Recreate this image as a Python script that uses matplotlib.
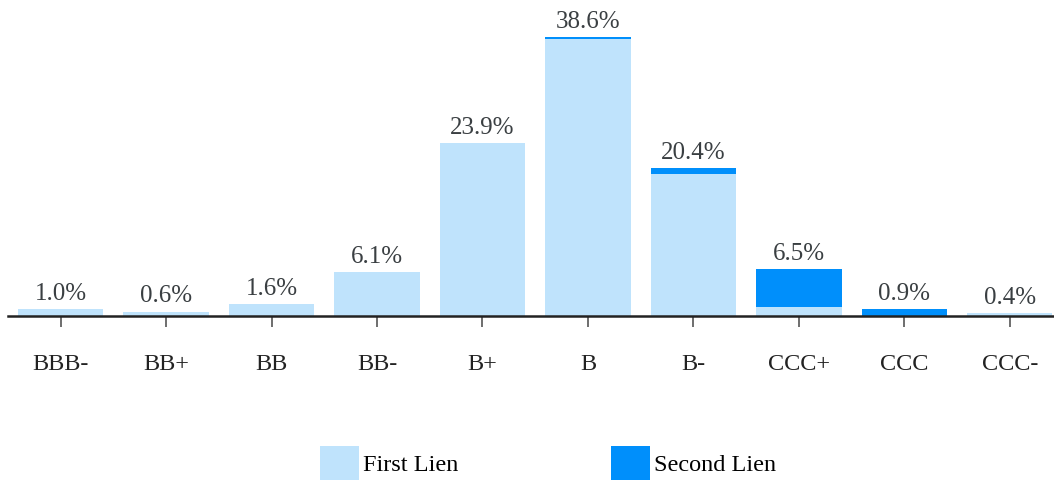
import matplotlib
matplotlib.use("Agg")
import matplotlib.pyplot as plt
from matplotlib.patches import Patch

categories = ["BBB-", "BB+", "BB", "BB-", "B+", "B", "B-", "CCC+", "CCC", "CCC-"]
first_lien = [1.0, 0.6, 1.6, 6.1, 23.9, 38.3, 19.6, 1.2, 0.0, 0.4]
second_lien = [0.0, 0.0, 0.0, 0.0, 0.0, 0.3, 0.8, 5.3, 0.9, 0.0]
totals = ["1.0%", "0.6%", "1.6%", "6.1%", "23.9%", "38.6%", "20.4%", "6.5%", "0.9%", "0.4%"]

c_first = "#BFE3FC"
c_second = "#008FFB"

plt.rcParams['font.family'] = ['Liberation Serif', 'DejaVu Serif']

fig = plt.figure(figsize=(10.54, 4.8), dpi=100)
ax = fig.add_axes([8/1054, 164/480, 1046/1054, 316/480])

x = list(range(len(categories)))
ax.bar(x, first_lien, width=0.81, color=c_first, label="First Lien")
ax.bar(x, second_lien, width=0.81, bottom=first_lien, color=c_second, label="Second Lien")

for xi, f, s, t in zip(x, first_lien, second_lien, totals):
    ax.annotate(t, (xi, f + s), xytext=(0, 3), textcoords="offset points",
                ha="center", va="bottom", fontsize=18, color="#3a3f42")

ax.set_xlim(-0.5, 9.42)
ax.set_ylim(0, 43.7)
for sp in ["top", "right", "left"]:
    ax.spines[sp].set_visible(False)
ax.spines["bottom"].set_linewidth(1.8)
ax.spines["bottom"].set_color("#222222")
ax.set_yticks([])
ax.set_xticks(x)
ax.set_xticklabels(categories, fontsize=17.5, color="#222222")
ax.tick_params(axis="x", length=8, width=1.2, color="#555555", pad=19)

handles = [Patch(facecolor=c_first, label="First Lien"),
           Patch(facecolor=c_second, label="Second Lien")]
fig.legend(handles=handles, loc="center", bbox_to_anchor=(0.52, 17/480), ncol=2,
           frameon=False, fontsize=17.5, handlelength=1.6, handleheight=1.75,
           handletextpad=0.15, columnspacing=6.3)

fig.savefig("out.png", dpi=100)
